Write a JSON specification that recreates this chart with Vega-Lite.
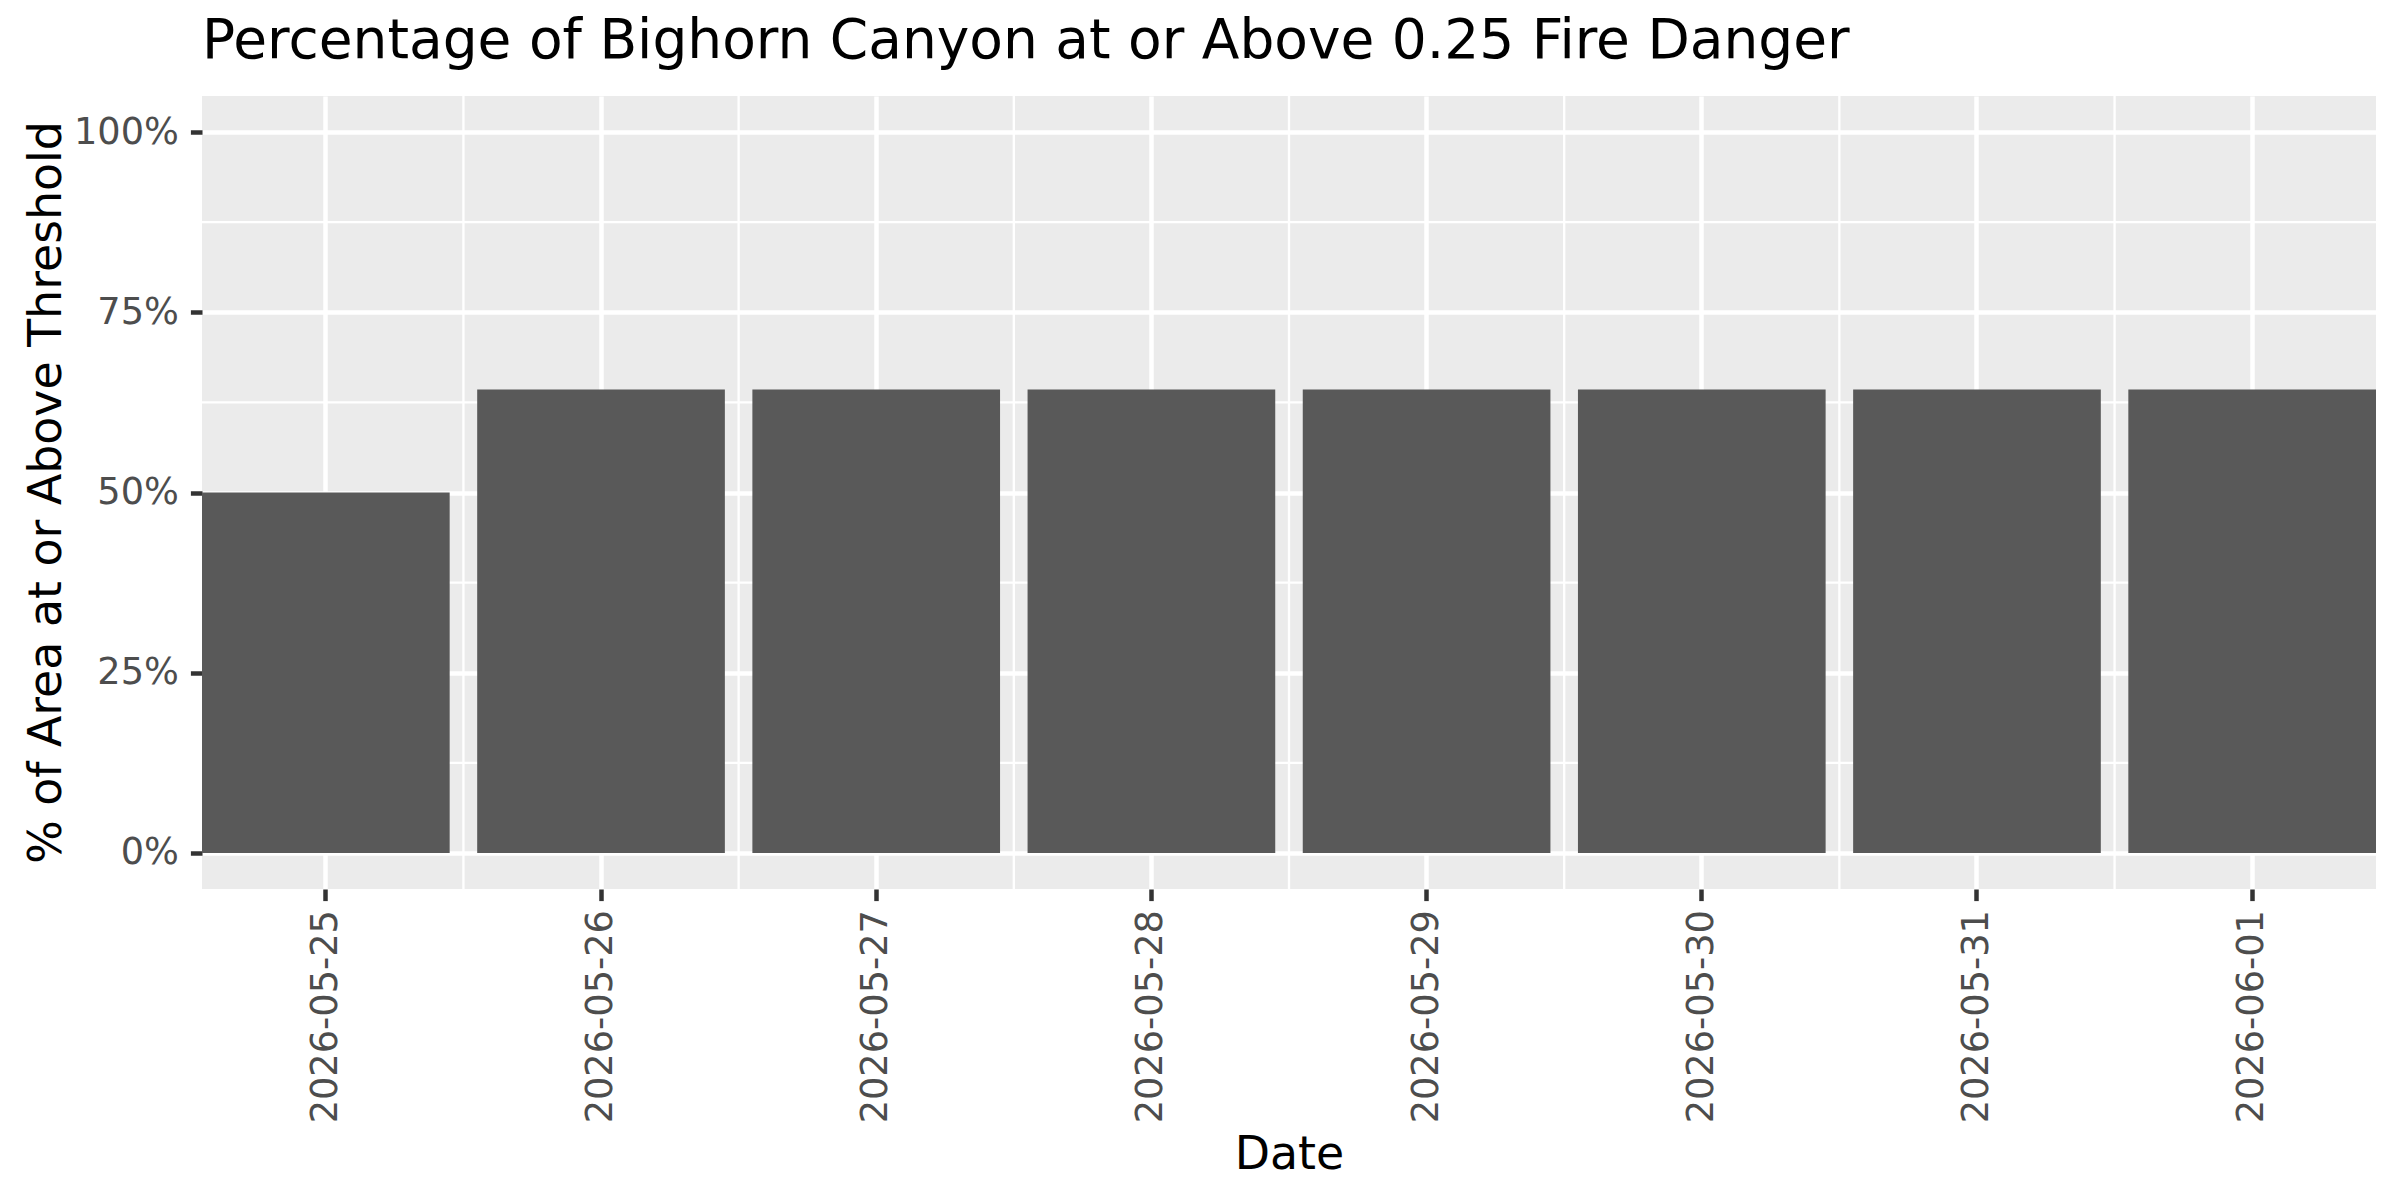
{
  "$schema": "https://vega.github.io/schema/vega-lite/v6.json",
  "width": 2174,
  "height": 793,
  "autosize": {"type": "none"},
  "padding": {"left": 202, "top": 96, "right": 24, "bottom": 311},
  "background": "white",
  "title": {
    "text": "Percentage of Bighorn Canyon at or Above 0.25 Fire Danger",
    "anchor": "start",
    "frame": "group",
    "baseline": "alphabetic",
    "offset": -18,
    "font": "DejaVu Sans",
    "fontSize": 55,
    "fontWeight": "normal",
    "color": "black"
  },
  "config": {
    "view": {"fill": "#EBEBEB", "stroke": null},
    "axis": {
      "domain": false,
      "grid": true,
      "gridColor": "white",
      "gridWidth": 4.5,
      "tickColor": "#333333",
      "tickWidth": 4.5,
      "tickSize": 11.6,
      "labelFont": "DejaVu Sans",
      "labelFontSize": 36.7,
      "labelColor": "#4D4D4D",
      "labelLimit": 0,
      "titleFont": "DejaVu Sans",
      "titleFontSize": 45.8,
      "titleFontWeight": "normal",
      "titleColor": "black"
    }
  },
  "datasets": {
    "danger": [
      {"date": "2026-05-25", "pct": 0.5},
      {"date": "2026-05-26", "pct": 0.6429},
      {"date": "2026-05-27", "pct": 0.6429},
      {"date": "2026-05-28", "pct": 0.6429},
      {"date": "2026-05-29", "pct": 0.6429},
      {"date": "2026-05-30", "pct": 0.6429},
      {"date": "2026-05-31", "pct": 0.6429},
      {"date": "2026-06-01", "pct": 0.6429}
    ],
    "minor_y": [
      {"v": 0.125},
      {"v": 0.375},
      {"v": 0.625},
      {"v": 0.875}
    ]
  },
  "layer": [
    {
      "data": {"name": "minor_y"},
      "mark": {"type": "rule", "color": "white", "strokeWidth": 2.3},
      "encoding": {
        "y": {
          "field": "v",
          "type": "quantitative",
          "scale": {"domain": [-0.05, 1.05], "nice": false, "zero": false},
          "axis": {
            "title": "% of Area at or Above Threshold",
            "values": [0, 0.25, 0.5, 0.75, 1],
            "format": ".0%",
            "labelPadding": 12,
            "titleX": -142,
            "titleY": 396,
            "titleBaseline": "alphabetic",
            "titleAngle": 270
          }
        }
      }
    },
    {
      "data": {"name": "danger"},
      "transform": [{"filter": "datum.date != '2026-05-25'"}],
      "mark": {"type": "rule", "color": "white", "strokeWidth": 2.3, "xOffset": -13.76},
      "encoding": {
        "x": {
          "field": "date",
          "type": "ordinal",
          "bandPosition": 0,
          "scale": {"paddingInner": 0.1, "paddingOuter": 0},
          "axis": {
            "title": "Date",
            "labelAngle": 270,
            "labelPadding": 9,
            "titleX": 1087,
            "titleY": 279,
            "titleBaseline": "alphabetic",
            "titleAnchor": null
          }
        }
      }
    },
    {
      "data": {"name": "danger"},
      "mark": {"type": "bar", "color": "#595959"},
      "encoding": {
        "x": {
          "field": "date",
          "type": "ordinal",
          "scale": {"paddingInner": 0.1, "paddingOuter": 0},
          "axis": {
            "title": "Date",
            "labelAngle": 270,
            "labelPadding": 9,
            "titleX": 1087,
            "titleY": 279,
            "titleBaseline": "alphabetic",
            "titleAnchor": null
          }
        },
        "y": {
          "field": "pct",
          "type": "quantitative",
          "scale": {"domain": [-0.05, 1.05], "nice": false, "zero": false},
          "axis": {
            "title": "% of Area at or Above Threshold",
            "values": [0, 0.25, 0.5, 0.75, 1],
            "format": ".0%",
            "labelPadding": 12,
            "titleX": -142,
            "titleY": 396,
            "titleBaseline": "alphabetic",
            "titleAngle": 270
          }
        }
      }
    }
  ]
}
